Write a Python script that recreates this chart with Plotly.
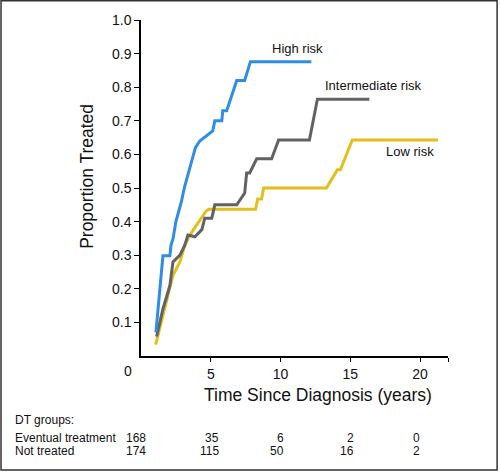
import plotly.graph_objects as go

# ---- data ----
high_x = [1.07, 1.3, 1.48, 1.57, 2.07, 2.15, 2.3, 2.5, 2.7, 2.9, 3.1, 3.35, 3.6, 3.9, 4.21, 5.14, 5.29, 5.79, 5.86, 6.14, 6.86, 7.43, 7.84, 12.21]
high_y = [0.07, 0.18, 0.28, 0.298, 0.298, 0.33, 0.35, 0.40, 0.43, 0.46, 0.50, 0.54, 0.58, 0.62, 0.64, 0.67, 0.70, 0.70, 0.73, 0.73, 0.82, 0.82, 0.876, 0.876]

mid_x = [1.12, 1.57, 1.86, 2.07, 2.29, 2.79, 3.14, 3.36, 3.86, 4.36, 4.57, 5.07, 5.29, 6.86, 7.43, 7.57, 7.79, 8.29, 9.36, 9.86, 12.07, 12.64, 16.36]
mid_y = [0.058, 0.14, 0.18, 0.21, 0.28, 0.30, 0.33, 0.36, 0.355, 0.376, 0.41, 0.41, 0.45, 0.45, 0.485, 0.545, 0.545, 0.587, 0.587, 0.643, 0.643, 0.764, 0.764]

low_x = [1.05, 1.86, 2.29, 2.79, 3.14, 3.5, 4.0, 4.64, 4.86, 8.21, 8.36, 8.64, 8.79, 13.29, 14.07, 14.29, 15.14, 21.29]
low_y = [0.034, 0.17, 0.24, 0.28, 0.33, 0.36, 0.39, 0.43, 0.437, 0.437, 0.467, 0.467, 0.50, 0.50, 0.554, 0.554, 0.643, 0.643]

x_ticks = [5, 10, 15, 20, 22]
x_ticktext = ["5", "10", "15", "20", ""]
y_ticks = [0.1, 0.2, 0.3, 0.4, 0.5, 0.6, 0.7, 0.8, 0.9, 1.0]

table_times = [0, 5, 10, 15, 20]
eventual = [168, 35, 6, 2, 0]
not_treated = [174, 115, 50, 16, 2]
col_shift = [7, 10, 5, 6, 2]

BLUE = "#2f8de6"
GRAY = "#626262"
GOLD = "#e4bf1c"
FONT = "Liberation Sans, Arial, sans-serif"

fig = go.Figure()
fig.add_trace(go.Scatter(x=low_x, y=low_y, mode="lines", line=dict(color=GOLD, width=3), hoverinfo="skip"))
fig.add_trace(go.Scatter(x=mid_x, y=mid_y, mode="lines", line=dict(color=GRAY, width=3), hoverinfo="skip"))
fig.add_trace(go.Scatter(x=high_x, y=high_y, mode="lines", line=dict(color=BLUE, width=3), hoverinfo="skip"))


def A(**kw):
    base = dict(showarrow=False, xanchor="center", yanchor="middle")
    base.update(kw)
    return base


ann = []
ann.append(A(x=11.21, y=0.914, xref="x", yref="y", text="High risk", font=dict(family=FONT, size=13, color="#111")))
ann.append(A(x=16.68, y=0.804, xref="x", yref="y", text="Intermediate risk", font=dict(family=FONT, size=13, color="#111")))
ann.append(A(x=19.25, y=0.608, xref="x", yref="y", text="Low risk", font=dict(family=FONT, size=13, color="#111")))
ann.append(A(x=0, y=0, xref="x", yref="y", text="0", xshift=-13, yshift=-15, font=dict(family=FONT, size=14, color="#111")))
ann.append(A(x=0.575, y=-0.116, xref="paper", yref="paper", text="Time Since Diagnosis (years)",
             font=dict(family=FONT, size=17.5, color="#111")))
ann.append(A(x=-0.176, y=0.536, xref="paper", yref="paper", text="Proportion Treated", textangle=-90,
             font=dict(family=FONT, size=17.5, color="#111")))
ann.append(A(x=-0.418, y=-0.190, xref="paper", yref="paper", text="DT groups:", xanchor="left",
             font=dict(family=FONT, size=12, color="#111")))
ann.append(A(x=-0.418, y=-0.244, xref="paper", yref="paper", text="Eventual treatment", xanchor="left",
             font=dict(family=FONT, size=12, color="#111")))
ann.append(A(x=-0.418, y=-0.283, xref="paper", yref="paper", text="Not treated", xanchor="left",
             font=dict(family=FONT, size=12, color="#111")))
for t, e, n, s in zip(table_times, eventual, not_treated, col_shift):
    ann.append(A(x=t, y=-0.244, xref="x", yref="paper", text=str(e), xanchor="right", xshift=s,
                 font=dict(family=FONT, size=12, color="#111")))
    ann.append(A(x=t, y=-0.283, xref="x", yref="paper", text=str(n), xanchor="right", xshift=s,
                 font=dict(family=FONT, size=12, color="#111")))

fig.update_layout(
    width=500, height=472,
    margin=dict(l=141, r=52, t=20, b=116),
    paper_bgcolor="white", plot_bgcolor="white",
    showlegend=False,
    annotations=ann,
    shapes=[dict(type="rect", xref="paper", yref="paper", x0=-0.456, x1=1.16, y0=-0.339, y1=1.057,
                 line=dict(color="#333", width=1.5), layer="below")],
    xaxis=dict(range=[0, 22], tickvals=x_ticks, ticktext=x_ticktext, showgrid=False, zeroline=False,
               showline=True, linecolor="black", linewidth=1.5, ticks="outside", ticklen=4,
               tickcolor="black", tickfont=dict(family=FONT, size=14, color="#111")),
    yaxis=dict(range=[0, 1.0], tickvals=y_ticks, tickformat=".1f", showgrid=False, zeroline=False,
               showline=True, linecolor="black", linewidth=1.5, ticks="outside", ticklen=5,
               tickcolor="black", tickfont=dict(family=FONT, size=14, color="#111")),
)

fig.write_html("out.html", config={"displayModeBar": False},
               post_script="document.body.style.margin='0';document.body.style.overflow='hidden';")
